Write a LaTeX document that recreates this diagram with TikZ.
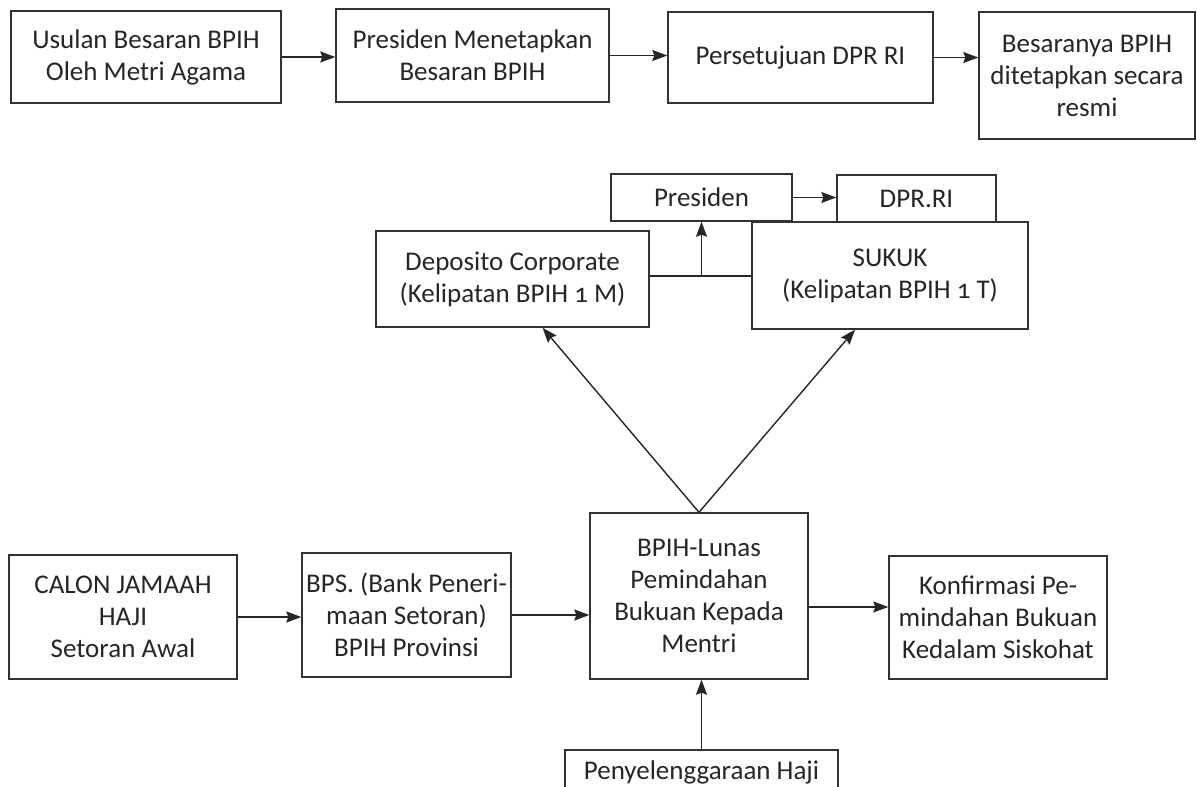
\documentclass[tikz,border=0pt]{standalone}
\usepackage{fontspec}
\setmainfont{Carlito}[Numbers=OldStyle]
\usetikzlibrary{arrows.meta,calc}

\begin{document}
\begin{tikzpicture}[x=1pt,y=-1pt,
  box/.style={draw=black!80, line width=1.4pt, align=center, inner sep=1pt,
    text=black!85, font=\fontsize{27}{32}\selectfont},
  arr/.style={-{Stealth[length=15pt,width=11pt,inset=2pt]}, line width=1.4pt, draw=black!85}]
\useasboundingbox (0,0) rectangle (1197,787);
\clip (0,0) rectangle (1197,787);

% Top row (penetapan BPIH)
\node[box, minimum width=270pt, minimum height=92pt] (usulan) at (146,57) {Usulan Besaran BPIH\\Oleh Metri Agama};
\node[box, minimum width=273pt, minimum height=93pt] (tetap) at (472.5,55.5) {Presiden Menetapkan\\Besaran BPIH};
\node[box, minimum width=265pt, minimum height=91pt] (setuju) at (800.5,57.5) {Persetujuan DPR RI};
\node[box, minimum width=216pt, minimum height=127pt] (resmi) at (1087,75.5) {Besaranya BPIH\\ditetapkan secara\\resmi};
\draw[arr] (usulan.east) -- (usulan.east -| tetap.west);
\draw[arr] (tetap.east) -- (tetap.east -| setuju.west);
\draw[arr] (setuju.east) -- (setuju.east -| resmi.west);

% Middle (investasi)
\node[box, minimum width=181pt, minimum height=47pt] (presiden) at (701.5,197.5) {Presiden};
\node[box, minimum width=159pt, minimum height=47pt] (dpr) at (916.5,198.5) {DPR.RI};
\node[box, minimum width=273pt, minimum height=96pt] (deposito) at (512.5,279) {Deposito Corporate\\(Kelipatan BPIH 1 M)};
\node[box, minimum width=276pt, minimum height=107pt] (sukuk) at (890,275.5) {SUKUK\\(Kelipatan BPIH 1 T)};
\coordinate (mid) at (701.5,276);
\draw[line width=1.4pt, black!85] (mid -| deposito.east) -- (mid -| sukuk.west);
\draw[arr] (mid) -- (presiden.south);
\draw[arr] (presiden.east) -- (presiden.east -| dpr.west);

% Bottom row (setoran jamaah)
\node[box, minimum width=228pt, minimum height=124pt] (calon) at (123,617) {CALON JAMAAH\\HAJI\\Setoran Awal};
\node[box, minimum width=209pt, minimum height=124pt] (bps) at (406.5,615) {BPS. (Bank Peneri-\\maan Setoran)\\BPIH Provinsi};
\node[box, minimum width=218pt, minimum height=166pt] (lunas) at (699,596) {BPIH-Lunas\\Pemindahan\\Bukuan Kepada\\Mentri};
\node[box, minimum width=218pt, minimum height=123pt] (konfirmasi) at (998,617.5) {Konfirmasi Pe-\\mindahan Bukuan\\Kedalam Siskohat};
\node[box, minimum width=273pt, minimum height=44pt] (haji) at (701.5,772) {Penyelenggaraan Haji};
\draw[arr] (calon.east) -- (calon.east -| bps.west);
\draw[arr] (bps.east) -- (bps.east -| lunas.west);
\draw[arr] ([yshift=-11pt]lunas.east) -- ([yshift=-11pt]lunas.east -| konfirmasi.west);
\draw[arr] (haji.north) -- (haji.north |- lunas.south);

% Lunas ke deposito dan sukuk
\draw[arr] (lunas.north) -- ([xshift=30pt]deposito.south);
\draw[arr] (lunas.north) -- ([xshift=-35pt]sukuk.south);
\end{tikzpicture}
\end{document}
